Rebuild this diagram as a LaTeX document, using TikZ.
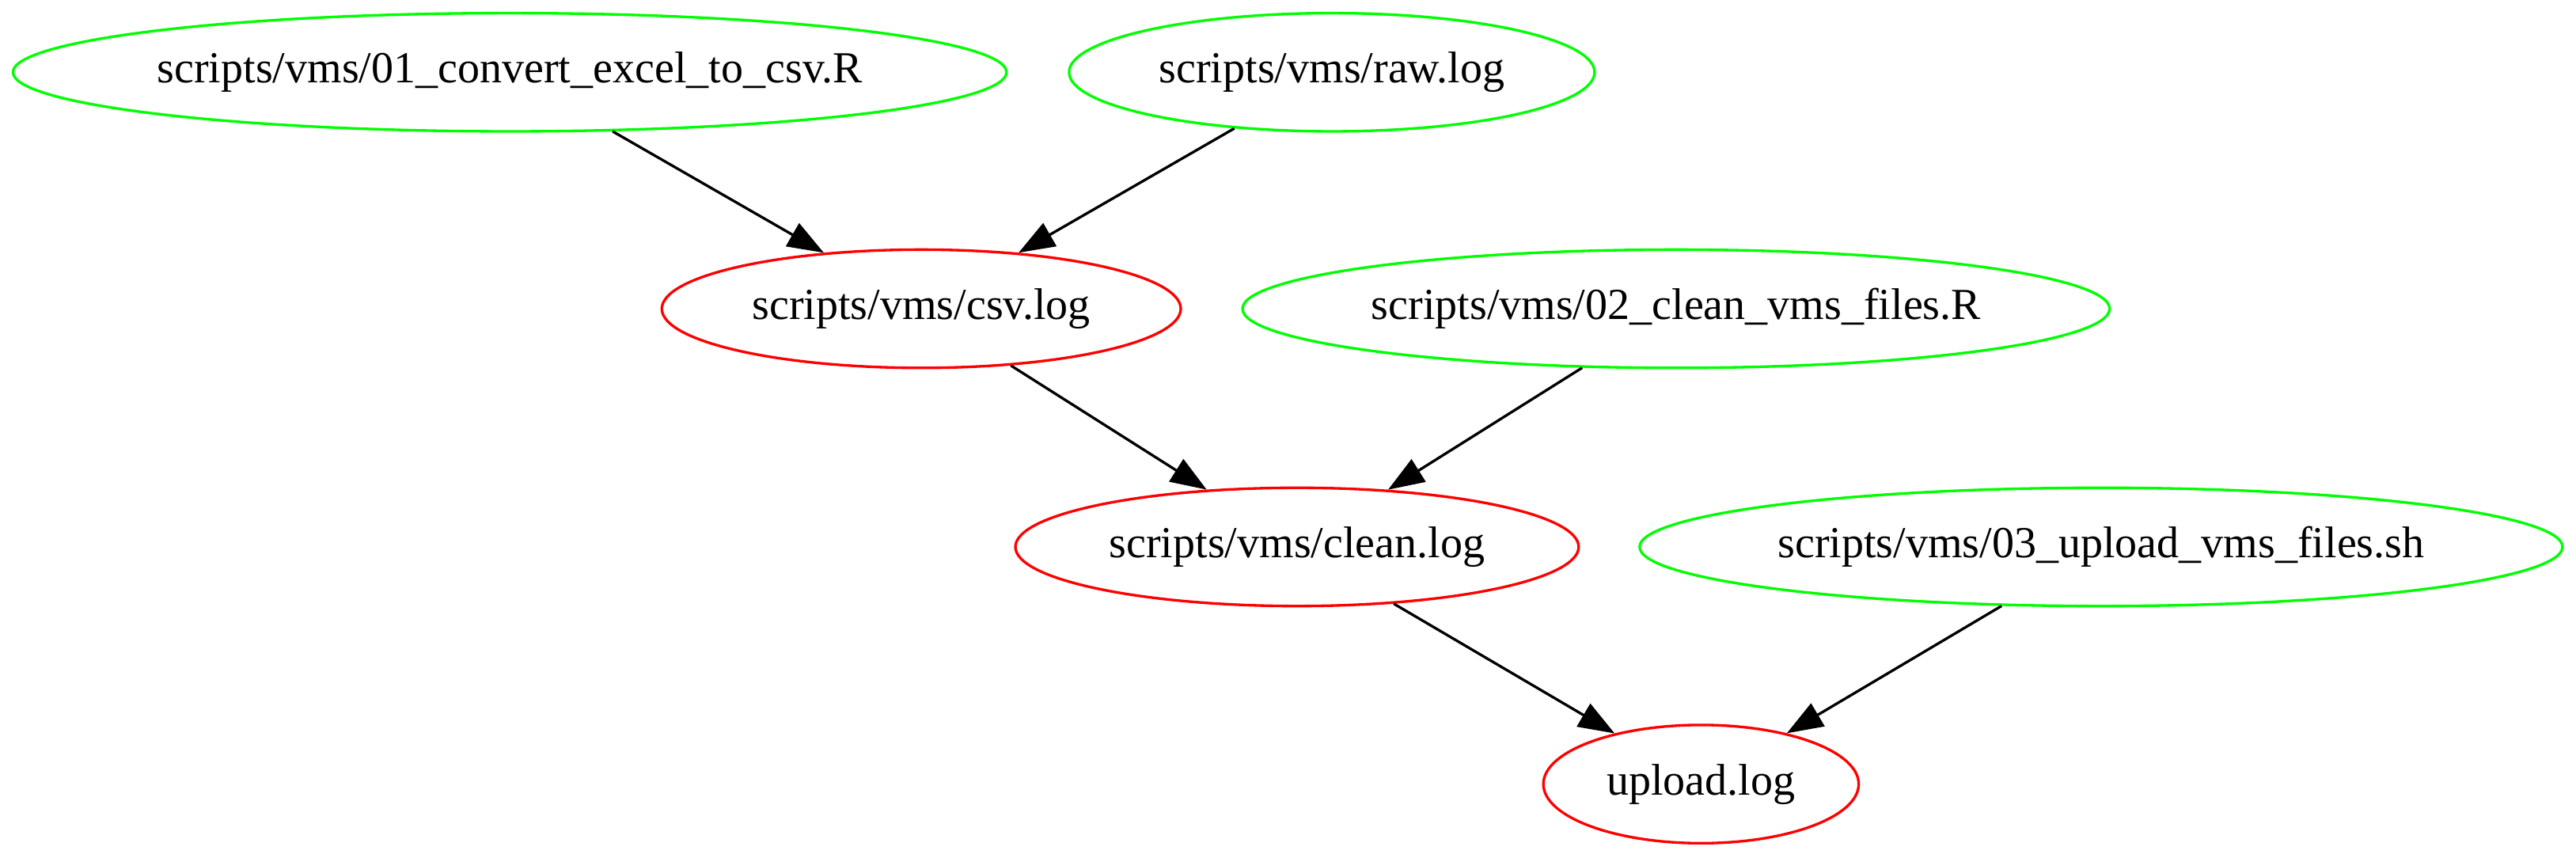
\documentclass[tikz,border=0pt]{standalone}
\usepackage{fontspec}
\setmainfont{Liberation Serif}
\usepackage{xcolor}
\usetikzlibrary{shapes.geometric,arrows.meta}
\definecolor{gvgreen}{RGB}{0,255,0}
\definecolor{gvred}{RGB}{255,0,0}

\begin{document}
\begin{tikzpicture}[font=\fontsize{13.5}{16}\selectfont, >={Triangle[length=11pt,width=8pt]},
  x=1pt, y=1pt, line width=0.8pt,
  src/.style={draw=gvgreen, ellipse, minimum height=36pt, inner sep=0pt},
  logf/.style={draw=gvred, ellipse, minimum height=36pt, inner sep=0pt}]
\useasboundingbox (0,0) rectangle (784.3,261);

% oberste Reihe: Quellen
\node[src, minimum width=302.5pt] (conv) at (155.2,239) {\makebox[0pt]{scripts/vms/01\_convert\_excel\_to\_csv.R}};
\node[src, minimum width=160pt]   (raw)  at (405.5,239) {\makebox[0pt]{scripts/vms/raw.log}};

% zweite Reihe
\node[logf, minimum width=158pt] (csv)    at (280.5,167) {\makebox[0pt]{scripts/vms/csv.log}};
\node[src,  minimum width=264pt] (cleanr) at (510.3,167) {\makebox[0pt]{scripts/vms/02\_clean\_vms\_files.R}};

% dritte Reihe
\node[logf, minimum width=171.5pt] (clean) at (394.9,94.5)  {\makebox[0pt]{scripts/vms/clean.log}};
\node[src,  minimum width=281pt]   (upsh)  at (639.7,94.5) {\makebox[0pt]{scripts/vms/03\_upload\_vms\_files.sh}};

% unten
\node[logf, minimum width=96pt] (upload) at (517.9,22.3) {\makebox[0pt]{upload.log}};

\draw[->] (conv)   -- (csv);
\draw[->] (raw)    -- (csv);
\draw[->] (csv)    -- (clean);
\draw[->] (cleanr) -- (clean);
\draw[->] (clean)  -- (upload);
\draw[->] (upsh)   -- (upload);
\end{tikzpicture}
\end{document}
